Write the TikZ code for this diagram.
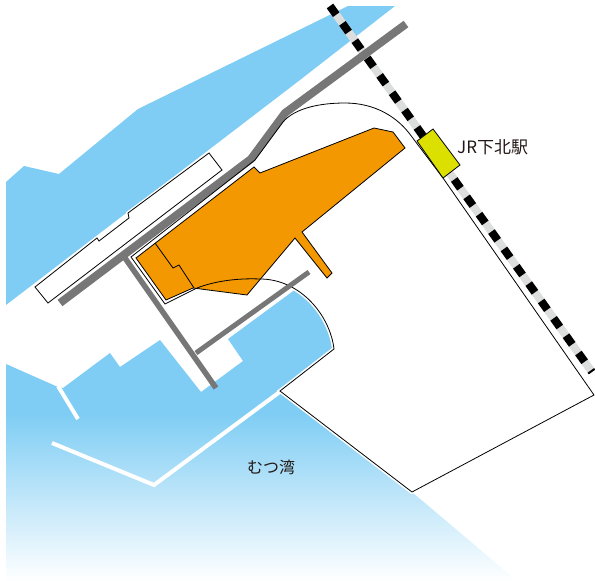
\documentclass[tikz,border=0pt]{standalone}
\usepackage{fontspec}
\newfontfamily\jpfont{Noto Sans CJK JP}[Scale=1]
\definecolor{sea}{RGB}{127,205,244}
\definecolor{roadgrey}{RGB}{119,119,119}
\definecolor{railgrey}{RGB}{220,221,221}
\definecolor{bldg}{RGB}{243,152,0}
\definecolor{stn}{RGB}{220,224,0}
\definecolor{ink}{RGB}{35,24,21}
\tikzset{
  outline/.style={draw=black,line width=0.8pt,line join=miter},
  road/.style={draw=roadgrey,line join=miter},
  label/.style={text=ink,inner sep=0pt,font=\jpfont\fontsize{17}{17}\selectfont}
}
\begin{document}
\begin{tikzpicture}[x=1pt,y=-1pt]
\useasboundingbox (0,0) rectangle (595,581);
% upper sea
\fill[sea] (6,182) -- (24,166) -- (59,174) -- (138,109) -- (348,6) -- (395,6) -- (300,80) -- (6,305) -- cycle;
% lower sea with fade
\begin{scope}
\clip (6,364) -- (58,387) -- (63,388) -- (110,353) -- (120,367) -- (160,340) -- (201,392) -- (243,361) -- (228,339) -- (300,286) -- (345,340) -- (345,400) -- (412,480) -- (412,492) -- (517,581) -- (6,581) -- cycle;
\fill[sea] (0,280) rectangle (595,414);
\shade[top color=sea,bottom color=white] (0,413.5) rectangle (595,581);
\end{scope}
% breakwaters
\draw[white,line width=4pt,line join=miter] (52,443) -- (154,485) -- (281,391);
\draw[white,line width=4pt] (58,386) -- (78,419);
% quay block
\path[fill=white,draw=white,line width=3.5pt] (35,287) -- (97,238) -- (99,241) -- (129,218) -- (128,213) -- (209,153) -- (222,170) -- (48,303) -- cycle;
\draw[outline,fill=white] (35,287) -- (97,238) -- (99,241) -- (129,218) -- (128,213) -- (209,153) -- (222,170) -- (48,303) -- cycle;
% site
\def\sitepath{(131,257) -- (255,160) -- (283,122) .. controls (295,108) and (320,103) .. (345,103) .. controls (375,103) and (398,117) .. (412,137) -- (443,178) -- (594,395) -- (412,492) -- (280,391) -- (334,349) .. controls (330,315) and (300,279) .. (260,279) .. controls (238,278) and (215,281) .. (197,288) -- (165,304) -- cycle}
\path[draw=white,line width=4pt,fill=white] \sitepath;
% rail
\draw[railgrey,line width=8pt] (330,6) -- (592,372);
\draw[black,line width=8pt,dash pattern=on 10.67pt off 10.67pt] (330,6) -- (592,372);
% roads
\draw[road,line width=8pt] (60,303) -- (251,159) -- (285,113) -- (406,24);
\draw[outline] \sitepath;
\draw[road,line width=5.5pt] (125,258) -- (216,388);
\draw[road,line width=5pt] (196,353) -- (309,272);
% building
\draw[outline,fill=bldg] (136,258) -- (254,167) -- (260,173) -- (374,128) -- (393,132) -- (405,148) -- (302,232) -- (332,273) -- (327,278) -- (295,238) -- (247,295) -- (193,288) -- (166,300) -- cycle;
\draw[outline] (155,243) -- (173,268) -- (179,265) -- (194,288);
\draw[outline] (260,279) .. controls (238,278) and (215,281) .. (197,288);
% station
\draw[outline,fill=stn] (417,141) -- (433,129) -- (460,165) -- (443,178) -- cycle;
% labels
\node[label,anchor=west] (jr) at (457,147) {JR下北駅};
\node[label,anchor=west,font=\jpfont\fontsize{16}{16}\selectfont] (bay) at (247,467) {むつ湾};
\end{tikzpicture}
\end{document}
